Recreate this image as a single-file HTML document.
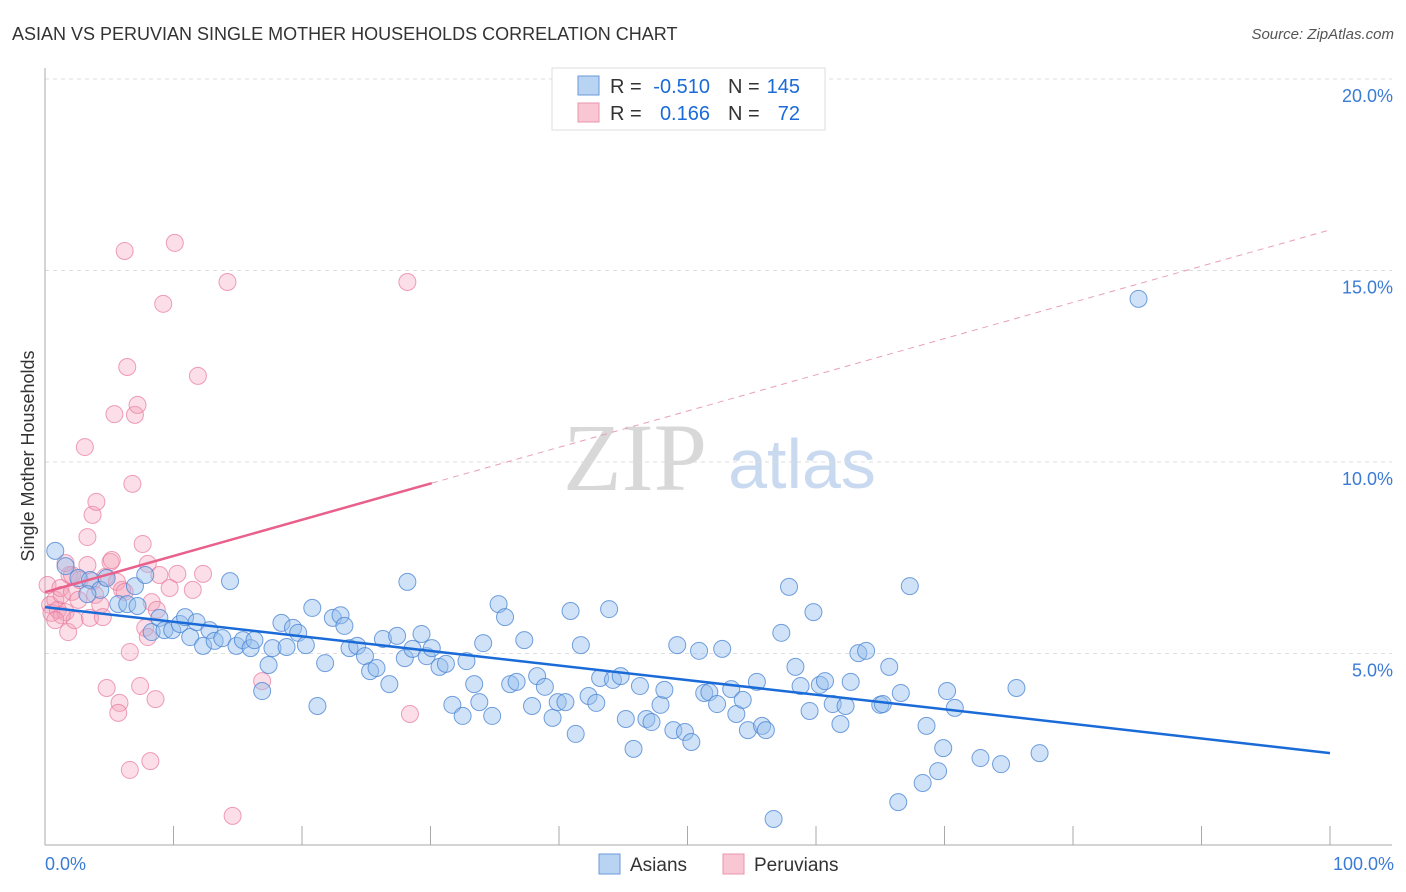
<!DOCTYPE html>
<html><head><meta charset="utf-8"><style>
body{margin:0;background:#fff;font-family:"Liberation Sans",sans-serif;}
svg{display:block}
</style></head><body>
<svg id="c" width="1406" height="892" xmlns="http://www.w3.org/2000/svg">
<text x="12" y="40" font-size="18" fill="#333">ASIAN VS PERUVIAN SINGLE MOTHER HOUSEHOLDS CORRELATION CHART</text>
<text x="1394" y="39" font-size="15" fill="#555" font-style="italic" text-anchor="end">Source: ZipAtlas.com</text>
<g>
<text x="635" y="490" font-size="96" font-family="Liberation Serif,serif" fill="#d8d8d8" text-anchor="middle">ZIP</text>
<text x="802" y="488" font-size="70" fill="#c9daf0" text-anchor="middle">atlas</text>
</g>
<g id="grid"></g>
<g id="axes"></g>
<g id="pts"></g>
<g id="lines"></g>
<text transform="translate(34,456) rotate(-90)" font-size="18" fill="#333" text-anchor="middle">Single Mother Households</text>
<text x="45" y="870" font-size="18" fill="#3a7bd5">0.0%</text>
<text x="1394" y="870" font-size="18" fill="#3a7bd5" text-anchor="end">100.0%</text>
<g>
<rect x="552" y="68" width="273" height="62" fill="#fff" stroke="#ddd"/>
<rect x="578" y="76" width="21" height="19" fill="#b9d3f3" stroke="#6a9ad9"/>
<rect x="578" y="103" width="21" height="19" fill="#f9c6d4" stroke="#ea95ad"/>
<text x="610" y="93" font-size="20" fill="#333">R =</text>
<text x="710" y="93" font-size="20" fill="#1a6bd8" text-anchor="end">-0.510</text>
<text x="728" y="93" font-size="20" fill="#333">N =</text>
<text x="800" y="93" font-size="20" fill="#1a6bd8" text-anchor="end">145</text>
<text x="610" y="120" font-size="20" fill="#333">R =</text>
<text x="710" y="120" font-size="20" fill="#1a6bd8" text-anchor="end">0.166</text>
<text x="728" y="120" font-size="20" fill="#333">N =</text>
<text x="800" y="120" font-size="20" fill="#1a6bd8" text-anchor="end">72</text>
</g>
<g>
<rect x="599" y="854" width="21" height="20" fill="#b9d3f3" stroke="#6a9ad9"/>
<text x="630" y="871" font-size="19" fill="#333">Asians</text>
<rect x="723" y="854" width="21" height="20" fill="#f9c6d4" stroke="#ea95ad"/>
<text x="754" y="871" font-size="19" fill="#333">Peruvians</text>
</g>
</svg>
<script>
const yTicks=[5,10,15,20];
const xTicks=[0,10,20,30,40,50,60,70,80,90,100];
const asianX=[0.8,1.6,2.6,3.5,4.3,4.8,5.7,6.4,7.0,7.8,7.2,8.3,8.9,9.3,9.9,10.5,10.9,11.3,11.8,12.3,12.8,13.2,13.8,14.4,14.9,15.4,16.0,16.3,16.9,17.4,17.7,18.4,18.8,19.3,19.7,20.3,20.8,21.2,21.8,22.4,23.0,23.3,23.7,24.3,24.9,25.3,25.8,26.3,26.8,27.4,28.0,28.2,28.6,29.3,29.7,30.1,30.7,31.2,31.7,32.5,32.8,33.4,33.8,34.1,34.8,35.3,35.8,36.2,36.7,37.3,37.9,38.3,38.9,39.5,39.9,40.5,40.9,41.3,41.7,42.3,42.9,43.2,43.9,44.2,44.8,45.2,45.8,46.3,46.8,47.2,47.9,48.2,48.9,49.2,49.8,50.3,50.9,51.3,51.7,52.3,52.7,53.4,53.8,54.3,54.7,55.4,55.8,56.1,56.7,57.3,57.9,58.4,58.8,59.5,59.8,60.3,60.7,61.3,61.9,62.3,62.7,63.3,63.9,65.0,65.2,65.7,66.4,66.6,67.3,68.3,68.6,69.5,69.9,70.2,70.8,72.8,74.4,75.6,77.4,85.1,3.3];
const asianY=[7.68,7.28,6.97,6.92,6.66,6.97,6.29,6.29,6.76,7.05,6.24,5.56,5.93,5.61,5.61,5.77,5.95,5.43,5.82,5.2,5.61,5.33,5.4,6.89,5.2,5.35,5.14,5.35,4.02,4.7,5.14,5.8,5.17,5.67,5.54,5.22,6.19,3.63,4.75,5.93,6.0,5.72,5.14,5.2,4.93,4.54,4.62,5.38,4.2,5.46,4.88,6.87,5.12,5.51,4.93,5.14,4.65,4.73,3.66,3.37,4.8,4.2,3.73,5.27,3.37,6.29,5.95,4.2,4.26,5.35,3.63,4.41,4.13,3.32,3.73,3.73,6.11,2.9,5.22,3.89,3.71,4.36,6.16,4.31,4.41,3.29,2.51,4.15,3.29,3.21,3.66,4.05,3.0,5.22,2.95,2.69,5.07,3.97,3.99,3.68,5.12,4.07,3.42,3.79,3.0,4.26,3.11,3.0,0.68,5.54,6.74,4.65,4.15,3.5,6.08,4.18,4.28,3.68,3.16,3.63,4.26,5.01,5.07,3.66,3.68,4.65,1.12,3.97,6.76,1.62,3.11,1.93,2.53,4.02,3.58,2.27,2.11,4.1,2.4,14.26,6.55];
const peruX=[0.2,0.4,0.5,0.8,1.0,1.2,1.3,1.6,1.8,1.9,2.1,2.3,2.6,2.7,3.1,3.3,3.5,3.7,3.9,4.0,4.3,4.5,4.7,4.8,5.1,5.2,5.4,5.6,5.8,5.7,6.0,6.2,6.4,6.6,6.8,7.0,7.2,7.4,7.6,7.8,8.0,8.2,8.3,8.6,8.7,8.9,9.2,9.7,10.1,10.3,11.5,11.9,12.3,14.2,14.6,16.9,28.2,28.4,3.7,1.3,0.8,6.6,8.0,2.1,3.3,6.2,1.6];
const peruY=[6.79,6.27,6.06,6.4,6.14,6.71,6.53,6.08,5.56,7.05,6.61,5.87,6.4,6.92,10.39,7.31,5.93,8.62,6.53,8.96,6.27,5.95,7.0,4.1,7.39,7.44,11.25,6.87,3.71,3.45,6.66,15.51,12.48,1.96,9.43,11.23,11.49,4.15,7.86,5.67,7.34,2.19,6.34,3.81,6.14,7.05,14.13,6.71,15.72,7.08,6.66,12.25,7.08,14.7,0.76,4.28,14.7,3.42,6.89,6.0,5.87,5.04,5.43,7.05,8.04,6.61,7.36];
const asianTrend=[6.21,2.4];
const peruTrend=[6.6,16.06];
const peruSolidEnd=30.1;
const NS='http://www.w3.org/2000/svg';
const X=v=>45+v*12.85, Y=v=>845-v*38.3;
function mk(t,a,p){const e=document.createElementNS(NS,t);for(const k in a)e.setAttribute(k,a[k]);document.getElementById(p).appendChild(e);return e;}
yTicks.forEach(t=>{
 const l=mk('line',{x1:45,x2:1392,y1:Y(t),y2:Y(t),stroke:'#ddd','stroke-dasharray':'4,4'},'grid');
 
 
 const tx=mk('text',{x:1393,y:Y(t)+23,'font-size':18,fill:'#3a7bd5','text-anchor':'end','font-family':'Liberation Sans,sans-serif'},'grid');
 tx.textContent=t.toFixed(1)+'%';
 
 
});
const ya=mk('line',{x1:45,x2:45,y1:68,y2:845,stroke:'#aaa'},'axes');


const xa=mk('line',{x1:45,x2:1392,y1:845,y2:845,stroke:'#aaa'},'axes');


xTicks.forEach(t=>{
 const l=mk('line',{x1:X(t),x2:X(t),y1:826,y2:845,stroke:'#aaa'},'axes');
 
 
});
peruX.forEach((x,i)=>{
 const c=mk('circle',{cx:X(x),cy:Y(peruY[i]),r:8.5,fill:'rgba(244,160,185,0.35)',stroke:'rgba(232,120,155,0.7)','stroke-width':1},'pts');
 
 
});
asianX.forEach((x,i)=>{
 const c=mk('circle',{cx:X(x),cy:Y(asianY[i]),r:8.5,fill:'rgba(150,190,238,0.45)',stroke:'rgba(70,130,210,0.75)','stroke-width':1},'pts');
 
 
});
const a=mk('line',{x1:X(0),y1:Y(asianTrend[0]),x2:X(100),y2:Y(asianTrend[1]),stroke:'#1a6bd8','stroke-width':2.5},'lines');


const pAt=x=>peruTrend[0]+(peruTrend[1]-peruTrend[0])*x/100;
const p1=mk('line',{x1:X(0),y1:Y(pAt(0)),x2:X(peruSolidEnd),y2:Y(pAt(peruSolidEnd)),stroke:'#e8608b','stroke-width':2.5},'lines');


const p2=mk('line',{x1:X(peruSolidEnd),y1:Y(pAt(peruSolidEnd)),x2:X(100),y2:Y(pAt(100)),stroke:'#e8a0b5','stroke-width':1,'stroke-dasharray':'6,5'},'lines');


</script>
</body></html>
